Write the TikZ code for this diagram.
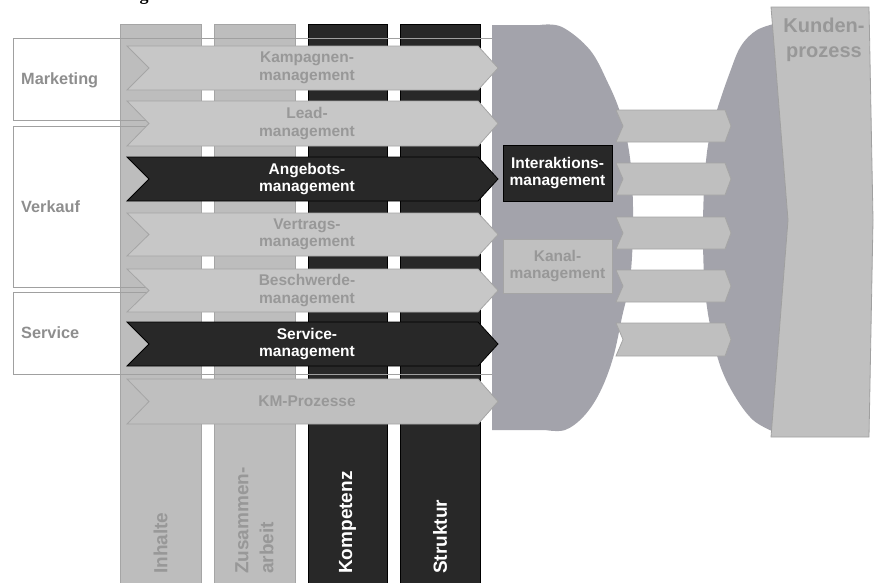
\documentclass[tikz,border=0pt]{standalone}
\usepackage{fontspec}
\setmainfont{Liberation Sans}
\newfontfamily\capserif{Liberation Serif}
\definecolor{colL}{RGB}{189,189,189}
\definecolor{bordL}{RGB}{165,165,165}
\definecolor{arrL}{RGB}{199,199,199}
\definecolor{arrM}{RGB}{191,191,191}
\definecolor{colD}{RGB}{40,40,40}
\definecolor{txtL}{RGB}{152,152,152}
\definecolor{txtM}{RGB}{142,142,142}
\definecolor{blobC}{RGB}{163,163,171}
\definecolor{kundC}{RGB}{192,192,192}
\definecolor{lineC}{RGB}{160,160,160}
\newcommand{\chevshape}[7]{\path[#1] (#2,#4) -- (#3-#7,#4) -- (#3,{(#4+#5)/2}) -- (#3-#7,#5) -- (#2,#5) -- (#2+#6,{(#4+#5)/2}) -- cycle;}
\begin{document}
\begin{tikzpicture}[x=1pt,y=-1pt,line join=miter,
  lightcol/.style={fill=colL,draw=bordL,line width=0.8pt},
  darkcol/.style={fill=colD,draw=black,line width=0.8pt},
  coltxt/.style={font=\fontsize{19}{25}\selectfont\bfseries,rotate=90,anchor=west,align=left,inner sep=0pt},
  sidebox/.style={draw=lineC,line width=0.8pt},
  sidetxt/.style={font=\fontsize{16.3}{19}\selectfont\bfseries,text=txtM,anchor=west,inner sep=0pt},
  lightchev/.style={fill=arrL,draw=bordL,line width=0.8pt},
  midchev/.style={fill=arrM,draw=bordL,line width=0.8pt},
  darkchev/.style={fill=colD,draw=black,line width=0.8pt},
  chevtxt/.style={font=\fontsize{15.5}{17.5}\selectfont\bfseries,align=center,inner sep=0pt},
  blob/.style={fill=blobC},
  darkbox/.style={fill=colD,draw=black,line width=0.8pt,text=white,minimum width=109pt,font=\fontsize{15.5}{17.5}\selectfont\bfseries,align=center,inner sep=0pt},
  lightbox/.style={fill=kundC,draw=bordL,line width=0.8pt,text=txtL,minimum width=109pt,font=\fontsize{15.5}{17.5}\selectfont\bfseries,align=center,inner sep=0pt},
  kund/.style={fill=kundC,draw=lineC,line width=0.8pt},
  smallarr/.style={fill=arrM,draw=bordL,line width=0.8pt}]
\useasboundingbox (0,0) rectangle (874,582);
% cropped caption fragment
\node[font=\capserif\fontsize{18}{20}\selectfont\bfseries,anchor=base,inner sep=0pt] (cap) at (144,0.8) {g};
% columns
\path[lightcol] (120,24) rectangle (201,584);
\path[lightcol] (214,24) rectangle (295,584);
\path[darkcol] (308,24) rectangle (387,584);
\path[darkcol] (400,24) rectangle (480,584);
\node[coltxt,text=txtL] (inh) at (160.5,574) {Inhalte};
\node[coltxt,text=txtL] (zus) at (254.5,574) {Zusammen-\\arbeit};
\node[coltxt,text=white] (komp) at (347.5,574) {Kompetenz};
\node[coltxt,text=white] (str) at (440,574) {Struktur};
% side boxes
\path[sidebox] (13,38) rectangle (505,120);
\path[sidebox] (13,126) rectangle (505,287);
\path[sidebox] (13,292) rectangle (505,374);
\node[sidetxt] (mkt) at (21,80) {Marketing};
\node[sidetxt] (vk) at (21,207) {Verkauf};
\node[sidetxt] (svc) at (21,333) {Service};
% middle blob
\path[blob] (492,25) -- (540,25) -- plot[smooth,tension=0.6] coordinates {(540,25) (562,27) (590,50) (608,83) (620,112) (628,145) (632,180) (633,230) (630,280) (622,317) (613,358) (600,392) (584,416) (565,430) (545,430)} -- (492,430) -- cycle;
% right blob
\path[blob] (800,23) -- (778,23) -- plot[smooth,tension=0.6] coordinates {(778,23) (757,30) (741,46) (730,72) (717,110) (708,145) (704,190) (703,240) (705,290) (711,330) (721,368) (736,398) (753,420) (772,431)} -- (800,431) -- cycle;
% Kundenprozess
\path[kund] (771,7) -- (869,7) -- (873,220) -- (869,437) -- (771,437) -- (788,220) -- cycle;
\node[font=\fontsize{20}{25}\selectfont\bfseries,text=txtL,align=center,inner sep=0pt] (kp) at (824,40) {Kunden-\\prozess};
% left chevrons
\chevshape{lightchev}{127}{498}{46}{90}{22}{20}
\chevshape{lightchev}{127}{498}{101}{146}{22}{20}
\chevshape{darkchev}{127}{498}{157}{201}{22}{20}
\chevshape{lightchev}{127}{498}{213}{256}{22}{20}
\chevshape{lightchev}{127}{498}{269}{312}{22}{20}
\chevshape{darkchev}{127}{498}{322}{366}{22}{20}
\chevshape{midchev}{127}{498}{379}{424}{22}{20}
\node[chevtxt,text=txtL] (kamp) at (307,68) {Kampagnen-\\management};
\node[chevtxt,text=txtL] (lead) at (307,123.5) {Lead-\\management};
\node[chevtxt,text=white] (ang) at (307,179) {Angebots-\\management};
\node[chevtxt,text=txtL] (vert) at (307,234.5) {Vertrags-\\management};
\node[chevtxt,text=txtL] (besch) at (307,290.5) {Beschwerde-\\management};
\node[chevtxt,text=white] (serv) at (307,344) {Service-\\management};
\node[chevtxt,text=txtL] (km) at (307,401.5) {KM-Prozesse};
% inner boxes
\node[darkbox,minimum height=56pt] (ia) at (557.5,173) {Interaktions-\\management};
\node[lightbox,minimum height=54pt] (kanal) at (557.5,266) {Kanal-\\management};
% right small arrows
\chevshape{smallarr}{616}{731}{110}{142}{7}{6}
\chevshape{smallarr}{616}{731}{163}{195}{7}{6}
\chevshape{smallarr}{616}{731}{217}{249}{7}{6}
\chevshape{smallarr}{616}{731}{270}{302}{7}{6}
\chevshape{smallarr}{616}{731}{323}{356}{7}{6}
\end{tikzpicture}
\end{document}
